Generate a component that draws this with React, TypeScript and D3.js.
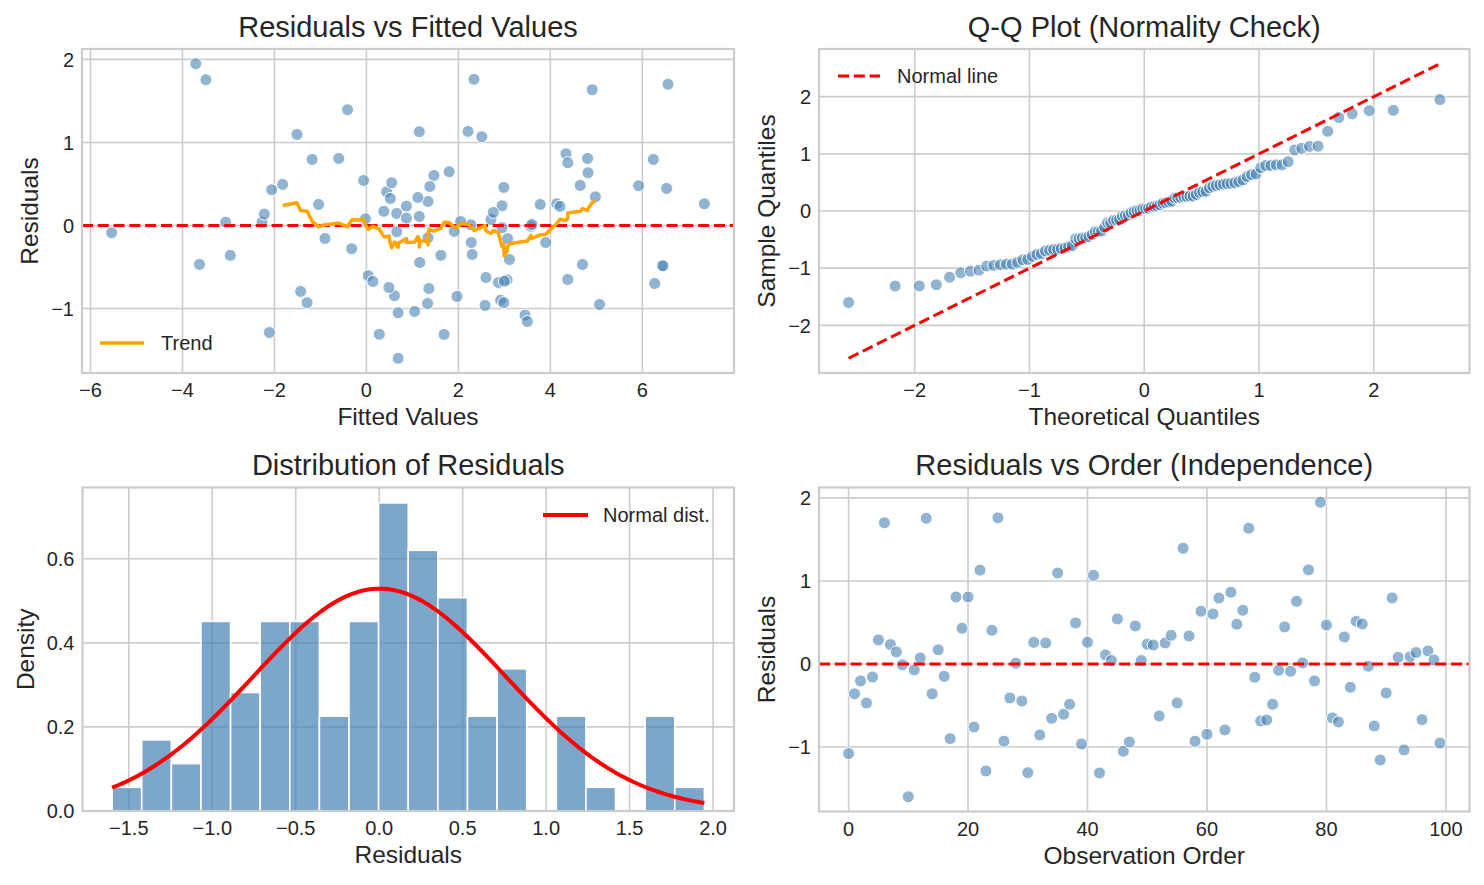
import React from 'react';
import * as d3 from 'd3';

// ---- data ----
const residuals = [
  -1.08, -0.36, -0.205, -0.47, -0.157, 0.289, 1.70, 0.233, 0.145, -0.01,
  -1.60, -0.072, 0.072, 1.755, -0.36, 0.17, -0.149, -0.90, 0.807, 0.43,
  0.807, -0.76, 1.13, -1.29, 0.405, 1.76, -0.93, -0.41, 0.008, -0.446,
  -1.31, 0.26, -0.855, 0.253, -0.655, 1.096, -0.606, -0.486, 0.494, -0.964,
  0.261, 1.068, -1.313, 0.108, 0.04, 0.542, -1.052, -0.94, 0.458, 0.04,
  0.237, 0.229, -0.627, 0.253, 0.345, -0.47, 1.394, 0.337, -0.93, 0.635,
  -0.847, 0.602, 0.795, -0.795, 0.863, 0.478, 0.647, 1.635, -0.16, -0.687,
  -0.675, -0.486, -0.076, 0.446, -0.088, 0.755, 0.012, 1.133, -0.205, 1.948,
  0.47, -0.65, -0.699, 0.325, -0.281, 0.514, 0.482, -0.028, -0.747, -1.157,
  -0.349, 0.795, 0.08, -1.036, 0.088, 0.137, -0.671, 0.157, 0.048, -0.952,
];

const fittedValues = [
  3.45, -2.96, 3.90, 4.70, -0.90, 1.34, 6.56, 0.87, 0.66, 3.58,
  0.69, 1.91, 2.71, -3.49, 1.62, 0.38, 1.34, 2.92, -0.60, -2.06,
  4.81, 1.36, 1.15, -2.11, 0.44, 2.34, -1.29, 3.11, 2.27, 1.16,
  0.28, 7.35, 1.97, -1.04, 3.06, -1.51, 0.04, 6.43, -1.82, 2.58,
  4.14, 2.51, 1.69, 1.15, -3.06, -0.06, 0.69, 1.33, 2.99, -2.27,
  2.95, 4.21, 2.60, 3.78, 4.98, -3.63, -0.41, 1.12, 2.99, 4.82,
  0.61, 1.47, -1.18, -1.43, 4.34, 5.92, 1.80, 4.91, 3.07, 2.87,
  0.14, 6.45, 0.66, 6.53, -5.54, 4.38, 3.60, 2.21, 2.28, -3.71,
  1.38, 4.38, 6.27, 0.52, -0.32, 0.55, 4.65, 2.95, 0.49, 3.50,
  2.30, 6.24, -0.02, 1.05, 0.87, -2.22, 3.00, 2.76, 2.05, 5.07,
];

const fittedTicks = [-6, -4, -2, 0, 2, 4, 6];
const residualTicks = [-1, 0, 1, 2];
const qqTicks = [-2, -1, 0, 1, 2];
const histXTicks = [-1.5, -1.0, -0.5, 0.0, 0.5, 1.0, 1.5, 2.0];
const histYTicks = [0.0, 0.2, 0.4, 0.6];
const orderTicks = [0, 20, 40, 60, 80, 100];

const BIN_COUNT = 20;
const ROLLING_WINDOW = 20;

// ---- style ----
const FONT = '"Liberation Sans", Arial, "DejaVu Sans", sans-serif';
const TXT = '#262626';
const GRID = '#cccccc';
const PT_FILL = 'steelblue';

// ---- helpers ----
function normInv(p: number): number {
  const a = [-3.969683028665376e1, 2.209460984245205e2, -2.759285104469687e2, 1.38357751867269e2, -3.066479806614716e1, 2.506628277459239];
  const b = [-5.447609879822406e1, 1.615858368580409e2, -1.556989798598866e2, 6.680131188771972e1, -1.328068155288572e1];
  const c = [-7.784894002430293e-3, -3.223964580411365e-1, -2.400758277161838, -2.549732539343734, 4.374664141464968, 2.938163982698783];
  const d = [7.784695709041462e-3, 3.224671290700398e-1, 2.445134137142996, 3.754408661907416];
  const pl = 0.02425;
  if (p < pl) {
    const q = Math.sqrt(-2 * Math.log(p));
    return (((((c[0] * q + c[1]) * q + c[2]) * q + c[3]) * q + c[4]) * q + c[5]) / ((((d[0] * q + d[1]) * q + d[2]) * q + d[3]) * q + 1);
  }
  if (p > 1 - pl) {
    const q = Math.sqrt(-2 * Math.log(1 - p));
    return -(((((c[0] * q + c[1]) * q + c[2]) * q + c[3]) * q + c[4]) * q + c[5]) / ((((d[0] * q + d[1]) * q + d[2]) * q + d[3]) * q + 1);
  }
  const q = p - 0.5;
  const r = q * q;
  return ((((((a[0] * r + a[1]) * r + a[2]) * r + a[3]) * r + a[4]) * r + a[5]) * q) / (((((b[0] * r + b[1]) * r + b[2]) * r + b[3]) * r + b[4]) * r + 1);
}

function padded(ext: [number, number], m = 0.05): [number, number] {
  const span = ext[1] - ext[0];
  return [ext[0] - m * span, ext[1] + m * span];
}

const fmtInt = (v: number) => (v < 0 ? '\u2212' + Math.abs(v) : String(v));
const fmt1 = (v: number) => (v < 0 ? '\u2212' + Math.abs(v).toFixed(1) : v.toFixed(1));

type Box = { left: number; right: number; top: number; bottom: number };

function Frame(props: {
  box: Box;
  x: d3.ScaleLinear<number, number>;
  y: d3.ScaleLinear<number, number>;
  xTicks: number[];
  yTicks: number[];
  xFmt: (v: number) => string;
  yFmt: (v: number) => string;
  title: string;
  xLabel: string;
  yLabel: string;
  yLabelOffset: number;
  children?: React.ReactNode;
  legend?: React.ReactNode;
}) {
  const { box, x, y } = props;
  const xt = props.xTicks.filter((t) => x(t) >= box.left - 0.5 && x(t) <= box.right + 0.5);
  const yt = props.yTicks.filter((t) => y(t) >= box.top - 0.5 && y(t) <= box.bottom + 0.5);
  const cx = (box.left + box.right) / 2;
  const cy = (box.top + box.bottom) / 2;
  return (
    <g>
      <rect x={box.left} y={box.top} width={box.right - box.left} height={box.bottom - box.top} fill="#ffffff" />
      {xt.map((t) => (
        <line key={'gx' + t} x1={x(t)} x2={x(t)} y1={box.top} y2={box.bottom} stroke={GRID} strokeWidth={1.6} />
      ))}
      {yt.map((t) => (
        <line key={'gy' + t} x1={box.left} x2={box.right} y1={y(t)} y2={y(t)} stroke={GRID} strokeWidth={1.6} />
      ))}
      {props.children}
      <rect x={box.left} y={box.top} width={box.right - box.left} height={box.bottom - box.top} fill="none" stroke={GRID} strokeWidth={2.2} />
      {xt.map((t) => (
        <text key={'tx' + t} x={x(t)} y={box.bottom + 24} textAnchor="middle" fontSize={20} fill={TXT} fontFamily={FONT}>
          {props.xFmt(t)}
        </text>
      ))}
      {yt.map((t) => (
        <text key={'ty' + t} x={box.left - 8} y={y(t) + 7.3} textAnchor="end" fontSize={20} fill={TXT} fontFamily={FONT}>
          {props.yFmt(t)}
        </text>
      ))}
      <text x={cx} y={box.top - 12.5} textAnchor="middle" fontSize={29} fill={TXT} fontFamily={FONT}>
        {props.title}
      </text>
      <text x={cx} y={box.bottom + 52} textAnchor="middle" fontSize={24.5} fill={TXT} fontFamily={FONT}>
        {props.xLabel}
      </text>
      <text
        transform={`translate(${box.left - props.yLabelOffset},${cy}) rotate(-90)`}
        textAnchor="middle"
        fontSize={24.5}
        fill={TXT}
        fontFamily={FONT}
      >
        {props.yLabel}
      </text>
      {props.legend}
    </g>
  );
}

export default function App() {
  const n = residuals.length;
  const order = d3.range(n);
  const resExt = d3.extent(residuals) as [number, number];

  // ---- panel boxes ----
  const TL: Box = { left: 82, right: 734, top: 49, bottom: 373 };
  const TR: Box = { left: 819, right: 1469.5, top: 49, bottom: 373 };
  const BL: Box = { left: 82.5, right: 734, top: 487.5, bottom: 811 };
  const BR: Box = { left: 819, right: 1469.5, top: 487.5, bottom: 811.5 };

  // ---- Residuals vs fitted ----
  const xTL = d3.scaleLinear().domain(padded(d3.extent(fittedValues) as [number, number])).range([TL.left, TL.right]);
  const yTL = d3.scaleLinear().domain(padded(resExt)).range([TL.bottom, TL.top]);
  const sortedByFit = order.slice().sort((a, b) => fittedValues[a] - fittedValues[b]);
  const half = Math.floor(ROLLING_WINDOW / 2);
  const trend: [number, number][] = [];
  for (let i = half; i - half + ROLLING_WINDOW <= n; i++) {
    const win = sortedByFit.slice(i - half, i - half + ROLLING_WINDOW);
    trend.push([fittedValues[sortedByFit[i]], d3.mean(win, (k) => residuals[k]) as number]);
  }
  const trendPath = d3.line<[number, number]>().x((d) => xTL(d[0])).y((d) => yTL(d[1]))(trend) || '';

  // ---- Q-Q ----
  const sortedRes = residuals.slice().sort((a, b) => a - b);
  const theo = sortedRes.map((_, i) => normInv((i + 0.5) / n));
  const theoExt = d3.extent(theo) as [number, number];
  const xTR = d3.scaleLinear().domain(padded(theoExt)).range([TR.left, TR.right]);
  const yTR = d3.scaleLinear().domain(padded(d3.extent([...theo, ...sortedRes]) as [number, number])).range([TR.bottom, TR.top]);

  // ---- Histogram ----
  const binW = (resExt[1] - resExt[0]) / BIN_COUNT;
  const thresholds = d3.range(1, BIN_COUNT).map((i) => resExt[0] + i * binW);
  const bins = d3.bin().domain(resExt).thresholds(thresholds)(residuals);
  const dens = bins.map((b) => b.length / (n * binW));
  const xBL = d3.scaleLinear().domain(padded(resExt)).range([BL.left, BL.right]);
  const yBL = d3.scaleLinear().domain([0, (d3.max(dens) as number) * 1.05]).range([BL.bottom, BL.top]);
  const mu = d3.mean(residuals) as number;
  const sd = Math.sqrt(d3.mean(residuals, (v) => (v - mu) * (v - mu)) as number);
  const curveX = d3.range(100).map((i) => resExt[0] + (i * (resExt[1] - resExt[0])) / 99);
  const curvePath =
    d3
      .line<number>()
      .x((v) => xBL(v))
      .y((v) => yBL(Math.exp(-0.5 * ((v - mu) / sd) ** 2) / (sd * Math.sqrt(2 * Math.PI))))
      .curve(d3.curveLinear)(curveX) || '';

  // ---- order ----
  const xBR = d3.scaleLinear().domain(padded([0, n - 1])).range([BR.left, BR.right]);
  const yBR = d3.scaleLinear().domain(padded(resExt)).range([BR.bottom, BR.top]);

  const dot = (key: string, cx: number, cy: number) => (
    <circle key={key} cx={cx} cy={cy} r={6} fill={PT_FILL} fillOpacity={0.6} stroke="#ffffff" strokeWidth={1} />
  );

  return (
    <svg width={1484} height={885} style={{ position: 'absolute', left: 0, top: 0, display: 'block', background: '#fff' }}>
      <rect x={0} y={0} width={1484} height={885} fill="#ffffff" />

      <Frame
        box={TL}
        x={xTL}
        y={yTL}
        xTicks={fittedTicks}
        yTicks={residualTicks}
        xFmt={fmtInt}
        yFmt={fmtInt}
        title="Residuals vs Fitted Values"
        xLabel="Fitted Values"
        yLabel="Residuals"
        yLabelOffset={44}
        legend={
          <g>
            <line x1={TL.left + 18} x2={TL.left + 62} y1={TL.bottom - 30} y2={TL.bottom - 30} stroke="orange" strokeWidth={3.5} />
            <text x={TL.left + 79} y={TL.bottom - 30 + 7.2} fontSize={20} fill={TXT} fontFamily={FONT}>
              Trend
            </text>
          </g>
        }
      >
        {order.map((i) => dot('a' + i, xTL(fittedValues[i]), yTL(residuals[i])))}
        <line x1={TL.left} x2={TL.right} y1={yTL(0)} y2={yTL(0)} stroke="red" strokeWidth={3} strokeDasharray="11,4.8" />
        <path d={trendPath} fill="none" stroke="orange" strokeWidth={3.5} strokeLinejoin="round" />
      </Frame>

      <Frame
        box={TR}
        x={xTR}
        y={yTR}
        xTicks={qqTicks}
        yTicks={qqTicks}
        xFmt={fmtInt}
        yFmt={fmtInt}
        title="Q-Q Plot (Normality Check)"
        xLabel="Theoretical Quantiles"
        yLabel="Sample Quantiles"
        yLabelOffset={44}
        legend={
          <g>
            <line x1={TR.left + 19} x2={TR.left + 61} y1={TR.top + 27} y2={TR.top + 27} stroke="red" strokeWidth={3} strokeDasharray="11,4.8" />
            <text x={TR.left + 78} y={TR.top + 27 + 7.2} fontSize={20} fill={TXT} fontFamily={FONT}>
              Normal line
            </text>
          </g>
        }
      >
        {sortedRes.map((v, i) => dot('q' + i, xTR(theo[i]), yTR(v)))}
        <line
          x1={xTR(theoExt[0])}
          y1={yTR(theoExt[0])}
          x2={xTR(theoExt[1])}
          y2={yTR(theoExt[1])}
          stroke="red"
          strokeWidth={3}
          strokeDasharray="11,4.8"
        />
      </Frame>

      <Frame
        box={BL}
        x={xBL}
        y={yBL}
        xTicks={histXTicks}
        yTicks={histYTicks}
        xFmt={fmt1}
        yFmt={fmt1}
        title="Distribution of Residuals"
        xLabel="Residuals"
        yLabel="Density"
        yLabelOffset={49}
        legend={
          <g>
            <line x1={BL.right - 191} x2={BL.right - 146} y1={BL.top + 27.5} y2={BL.top + 27.5} stroke="red" strokeWidth={4} />
            <text x={BL.right - 131} y={BL.top + 27.5 + 7.2} fontSize={20} fill={TXT} fontFamily={FONT}>
              Normal dist.
            </text>
          </g>
        }
      >
        {bins.map((b, i) =>
          b.length > 0 ? (
            <rect
              key={'b' + i}
              x={xBL(b.x0 as number)}
              y={yBL(dens[i])}
              width={xBL(b.x1 as number) - xBL(b.x0 as number)}
              height={yBL(0) - yBL(dens[i])}
              fill={PT_FILL}
              fillOpacity={0.7}
              stroke="#ffffff"
              strokeWidth={1.6}
            />
          ) : null
        )}
        <path d={curvePath} fill="none" stroke="red" strokeWidth={4} strokeLinejoin="round" />
      </Frame>

      <Frame
        box={BR}
        x={xBR}
        y={yBR}
        xTicks={orderTicks}
        yTicks={residualTicks}
        xFmt={fmtInt}
        yFmt={fmtInt}
        title="Residuals vs Order (Independence)"
        xLabel="Observation Order"
        yLabel="Residuals"
        yLabelOffset={44}
      >
        {order.map((i) => dot('o' + i, xBR(i), yBR(residuals[i])))}
        <line x1={BR.left} x2={BR.right} y1={yBR(0)} y2={yBR(0)} stroke="red" strokeWidth={3} strokeDasharray="11,4.8" />
      </Frame>
    </svg>
  );
}
